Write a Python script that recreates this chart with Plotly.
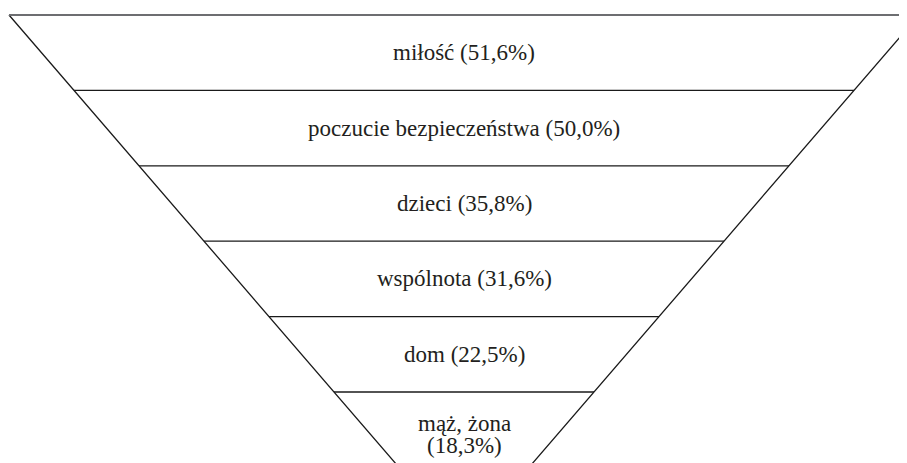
import plotly.graph_objects as go

# ---- data ----
categories = ["miłość", "poczucie bezpieczeństwa", "dzieci", "wspólnota", "dom", "mąż, żona"]
values = [51.6, 50.0, 35.8, 31.6, 22.5, 18.3]

def fmt(v):
    return f"{v:.1f}".replace(".", ",") + "%"

n = len(categories)
apex = 7.0  # band units at which the funnel's sides meet

def half(b):
    return 1 - b / apex

fig = go.Figure()

# sides of the inverted triangle
fig.add_trace(go.Scatter(x=[-half(0), 0, half(0)], y=[0, apex, 0], mode="lines",
                         line=dict(color="#1a1a1a", width=1.3), hoverinfo="skip", showlegend=False))
# top edge (grey)
fig.add_trace(go.Scatter(x=[-half(0), half(0)], y=[0, 0], mode="lines",
                         line=dict(color="#6d6e71", width=2.2), hoverinfo="skip", showlegend=False))
# band separators
for b in range(1, n):
    fig.add_trace(go.Scatter(x=[-half(b), half(b)], y=[b, b], mode="lines",
                             line=dict(color="#1a1a1a", width=1.3), hoverinfo="skip", showlegend=False))

font = dict(family="Liberation Serif", size=23, color="#231f20")
for i, (c, v) in enumerate(zip(categories, values)):
    if i == n - 1:
        fig.add_annotation(x=0, y=i + 0.42, text=c, showarrow=False, font=font,
                           xanchor="center", yanchor="middle")
        fig.add_annotation(x=0, y=i + 0.71, text=f"({fmt(v)})", showarrow=False, font=font,
                           xanchor="center", yanchor="middle")
    else:
        fig.add_annotation(x=0, y=i + 0.5, text=f"{c} ({fmt(v)})", showarrow=False, font=font,
                           xanchor="center", yanchor="middle")

fig.update_layout(
    width=907, height=463,
    margin=dict(l=0, r=0, t=0, b=0),
    paper_bgcolor="white", plot_bgcolor="white",
    xaxis=dict(range=[-1.0022, 0.9912], visible=False, fixedrange=True),
    yaxis=dict(range=[6.048, -0.0928], visible=False, fixedrange=True),
)

fig.write_html("out.html")
